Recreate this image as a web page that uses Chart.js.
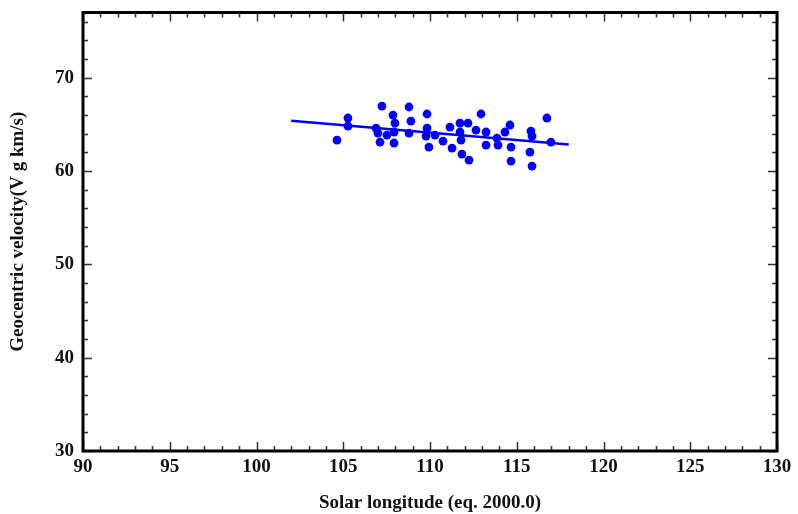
<!DOCTYPE html>
<html><head><meta charset="utf-8">
<script src="https://cdn.jsdelivr.net/npm/chart.js@4.4.1/dist/chart.umd.min.js"></script>
<style>html,body{margin:0;padding:0;background:#fff}</style>
</head><body>
<canvas id="c" width="798" height="514"></canvas>
<script>
const solarLongitude = [104.64,105.27,105.27,106.89,107.0,107.12,107.23,107.52,107.87,107.98,107.93,107.93,108.79,108.90,108.79,109.83,109.83,109.77,109.94,110.29,110.75,111.15,111.27,111.73,111.73,111.79,111.84,112.19,112.25,112.65,112.94,113.23,113.23,113.86,113.92,114.32,114.61,114.67,114.67,115.82,115.88,115.76,115.88,116.74,116.97];
const velocity = [63.33,65.69,64.83,64.61,64.08,63.11,66.97,63.86,66.01,65.15,64.19,63.01,66.87,65.36,64.08,66.12,64.61,63.76,62.58,63.86,63.22,64.72,62.47,65.15,64.19,63.33,61.83,65.15,61.18,64.40,66.12,64.19,62.79,63.54,62.79,64.19,64.94,62.58,61.08,64.29,63.76,62.04,60.54,65.69,63.11];
const fitLongitude = [102, 118];
const fitVelocity = [65.4, 62.85];
const xTickValues = [90,95,100,105,110,115,120,125,130];
const yTickValues = [30,40,50,60,70];
const xTitle = 'Solar longitude (eq. 2000.0)';
const yTitle = 'Geocentric velocity(V g km/s)';

const points = solarLongitude.map((x,i)=>({x, y: velocity[i]}));
const fit = fitLongitude.map((x,i)=>({x, y: fitVelocity[i]}));

const framePlugin = {
  id: 'frame',
  afterDatasetsDraw(chart){
    const {ctx, chartArea: a, scales: {x, y}} = chart;
    ctx.save();
    ctx.strokeStyle = '#333';
    ctx.lineWidth = 1.5;
    ctx.beginPath();
    for (let v = x.min; v <= x.max; v += 1) {
      const px = Math.round(x.getPixelForValue(v)) + 0.5;
      const L = v % 5 === 0 ? 9 : 5;
      ctx.moveTo(px, a.bottom); ctx.lineTo(px, a.bottom - L);
      ctx.moveTo(px, a.top); ctx.lineTo(px, a.top + L);
    }
    for (let v = y.min; v <= y.max; v += 2) {
      const py = Math.round(y.getPixelForValue(v)) + 0.5;
      const L = v % 10 === 0 ? 9 : 5;
      ctx.moveTo(a.left, py); ctx.lineTo(a.left + L, py);
      ctx.moveTo(a.right, py); ctx.lineTo(a.right - L, py);
    }
    ctx.stroke();
    ctx.lineWidth = 3;
    ctx.strokeStyle = '#000';
    ctx.strokeRect(a.left, a.top, a.right - a.left, a.bottom - a.top);
    ctx.restore();
  }
};

const tickFont = {family: "'Liberation Serif', serif", size: 19, weight: 'bold'};
const titleFont = {family: "'Liberation Serif', serif", size: 19, weight: 'bold'};

new Chart(document.getElementById('c'), {
  type: 'scatter',
  data: {
    datasets: [
      {data: points, backgroundColor: '#0000ff', borderColor: '#0000ff', pointRadius: 4.4, pointBorderWidth: 0, pointHoverRadius: 4.4},
      {data: fit, showLine: true, borderColor: '#0000ff', borderWidth: 2.6, pointRadius: 0, fill: false}
    ]
  },
  options: {
    responsive: false,
    animation: false,
    events: [],
    layout: {padding: {top: 12.5, right: 21, left: 0, bottom: 0}},
    plugins: {legend: {display: false}, tooltip: {enabled: false}},
    scales: {
      x: {
        type: 'linear', min: 90, max: 130,
        afterBuildTicks: s => { s.ticks = xTickValues.map(v => ({value: v})); },
        afterFit: s => { s.height = 63; s.paddingLeft = 0; s.paddingRight = 0; },
        grid: {display: false, drawTicks: false},
        border: {display: false},
        ticks: {font: tickFont, color: '#111', padding: 5, maxRotation: 0, autoSkip: false},
        title: {display: true, text: xTitle, font: titleFont, color: '#111', padding: {top: 2.6, bottom: 0}}
      },
      y: {
        type: 'linear', min: 30, max: 77,
        afterBuildTicks: s => { s.ticks = yTickValues.map(v => ({value: v})); },
        afterFit: s => { s.width = 83; s.paddingTop = 0; s.paddingBottom = 0; },
        grid: {display: false, drawTicks: false},
        border: {display: false},
        ticks: {font: tickFont, color: '#111', padding: 9, autoSkip: false},
        title: {display: true, text: yTitle, font: titleFont, color: '#111', padding: {top: 6.5, bottom: 0}}
      }
    }
  },
  plugins: [framePlugin]
});
</script>
</body></html>
